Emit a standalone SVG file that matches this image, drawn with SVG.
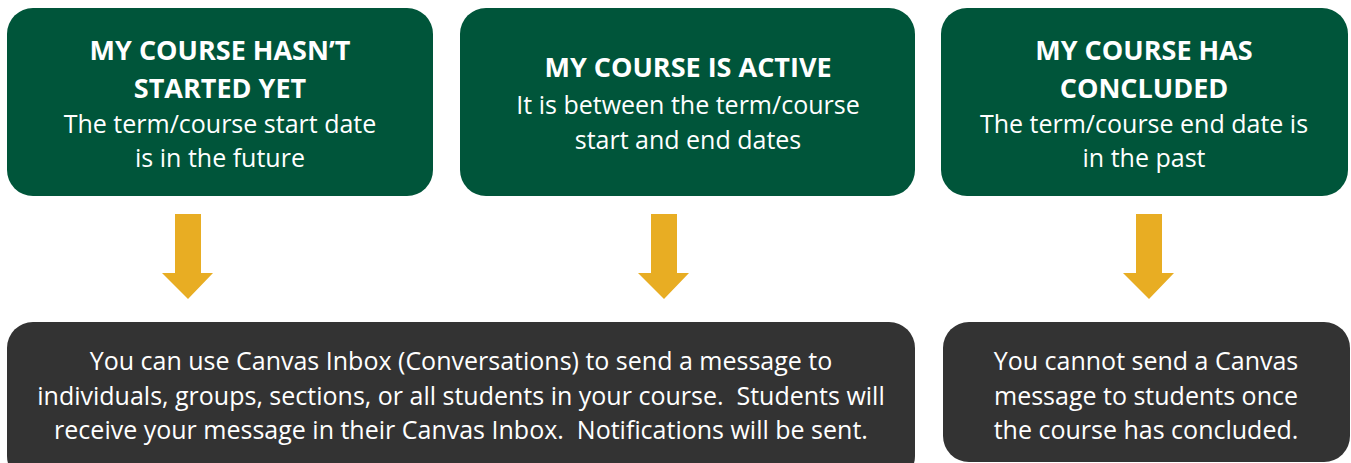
<svg xmlns="http://www.w3.org/2000/svg" width="1351" height="463" viewBox="0 0 1351 463">
<style>
.g{fill:#00553A}
.d{fill:#333333}
.t{font-family:"Open Sans","Noto Sans",sans-serif;fill:#ffffff;text-anchor:middle;white-space:pre}
.h{font-weight:bold;font-size:27px}
.b{font-size:25px}
.a{fill:#E8AD23}
</style>
<rect width="1351" height="463" fill="#ffffff"/>
<g id="node-not-started">
<rect class="g" x="7" y="8" width="426" height="188" rx="26"/>
<text class="t h" x="220" y="60">MY COURSE HASN’T</text>
<text class="t h" x="220" y="98">STARTED YET</text>
<text class="t b" x="220" y="133">The term/course start date</text>
<text class="t b" x="220" y="167">is in the future</text>
</g>
<g id="node-active">
<rect class="g" x="460" y="8" width="455" height="188" rx="26"/>
<text class="t h" x="688" y="77">MY COURSE IS ACTIVE</text>
<text class="t b" x="688" y="114">It is between the term/course</text>
<text class="t b" x="688" y="149">start and end dates</text>
</g>
<g id="node-concluded">
<rect class="g" x="941" y="8" width="407" height="188" rx="26"/>
<text class="t h" x="1144" y="60">MY COURSE HAS</text>
<text class="t h" x="1144" y="98">CONCLUDED</text>
<text class="t b" x="1144" y="133">The term/course end date is</text>
<text class="t b" x="1144" y="167">in the past</text>
</g>
<g id="node-can-message">
<rect class="d" x="7" y="322" width="908" height="160" rx="26"/>
<text class="t b" x="461" y="370">You can use Canvas Inbox (Conversations) to send a message to</text>
<text class="t b" x="461" y="405" xml:space="preserve">individuals, groups, sections, or all students in your course.  Students will</text>
<text class="t b" x="461" y="439" xml:space="preserve">receive your message in their Canvas Inbox.  Notifications will be sent.</text>
</g>
<g id="node-cannot-message">
<rect class="d" x="943" y="322" width="407" height="140" rx="26"/>
<text class="t b" x="1146" y="370">You cannot send a Canvas</text>
<text class="t b" x="1146" y="405">message to students once</text>
<text class="t b" x="1146" y="439">the course has concluded.</text>
</g>
<g id="connectors">
<polygon class="a" points="175,214 201,214 201,273 213,273 188,299 162,273 175,273"/>
<polygon class="a" points="651,214 677,214 677,273 689,273 664,299 638,273 651,273"/>
<polygon class="a" points="1136,214 1162,214 1162,273 1174,273 1149,299 1123,273 1136,273"/>
</g>
</svg>
